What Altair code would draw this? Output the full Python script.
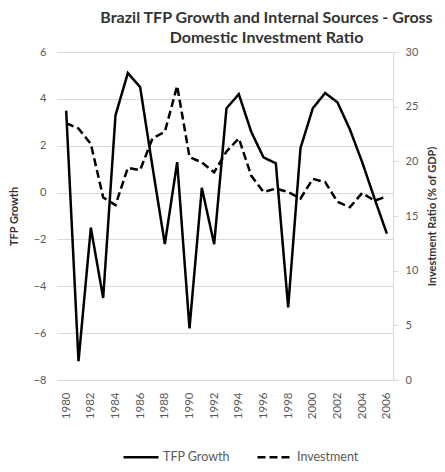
import altair as alt
import pandas as pd

years = list(range(1980, 2007))
tfp_growth = [3.5, -7.2, -1.5, -4.5, 3.3, 5.1, 4.5, 1.1, -2.2, 1.3,
              -5.8, 0.2, -2.2, 3.6, 4.2, 2.6, 1.5, 1.25, -4.9, 1.9,
              3.6, 4.25, 3.85, 2.7, 1.3, -0.25, -1.75]
investment = [23.5, 23.0, 21.6, 16.7, 16.0, 19.4, 19.2, 22.1, 22.7, 26.9,
              20.4, 19.9, 19.0, 20.9, 22.1, 18.7, 17.2, 17.5, 17.2, 16.6,
              18.4, 18.1, 16.3, 15.8, 17.1, 16.4, 16.8]
series_names = ["TFP Growth", "Investment"]
x_ticks = list(range(1980, 2007, 2))

df_tfp = pd.DataFrame({"year": years, "value": tfp_growth, "series": series_names[0]})
df_inv = pd.DataFrame({"year": years, "value": investment, "series": series_names[1]})

FONT = "Lato"
GREY = "#595959"
LIGHT = "#d9d9d9"

x_enc = alt.X("year:Q", scale=alt.Scale(domain=[1979.5, 2006.5], nice=False, zero=False),
              axis=alt.Axis(values=x_ticks, format="d", labelAngle=270, labelColor=GREY,
                            labelFontSize=11.5, labelFont=FONT, ticks=False, grid=False,
                            domainColor=LIGHT, labelPadding=12, title=None))

dash_scale = alt.Scale(domain=series_names, range=[[1, 0], [8, 4]])
legend = alt.Legend(orient="none", legendX=62, legendY=386, direction="horizontal",
                    title=None, symbolType="stroke", symbolSize=1225,
                    symbolStrokeWidth=2.5, symbolStrokeColor="black",
                    labelColor=GREY, labelFontSize=12.5, labelFont=FONT,
                    columnPadding=22, labelOffset=3)

tfp = alt.Chart(df_tfp).mark_line(color="black", strokeWidth=2.5).encode(
    x=x_enc,
    y=alt.Y("value:Q", scale=alt.Scale(domain=[-8, 6], nice=False),
            axis=alt.Axis(values=list(range(-8, 7, 2)), title="TFP Growth", titleFont=FONT,
                          titleFontSize=11, titleFontWeight="bold", titleColor="#333333",
                          labelColor=GREY, labelFontSize=11, labelFont=FONT,
                          gridColor=LIGHT, gridWidth=1.2, domain=False, tickColor=LIGHT,
                          tickSize=3, labelPadding=11, titlePadding=14)),
    strokeDash=alt.StrokeDash("series:N", scale=dash_scale, legend=legend),
)

inv = alt.Chart(df_inv).mark_line(color="black", strokeWidth=2.5).encode(
    x=x_enc,
    y=alt.Y("value:Q", scale=alt.Scale(domain=[0, 30], nice=False),
            axis=alt.Axis(orient="right", values=list(range(0, 31, 5)),
                          title="Investment Ratio (% of GDP)", titleFont=FONT,
                          titleFontSize=11, titleFontWeight="bold", titleColor="#333333",
                          titleAngle=270, labelColor=GREY, labelFontSize=11, labelFont=FONT,
                          grid=False, domainColor=LIGHT, tickColor=LIGHT, tickSize=5,
                          labelPadding=7, titlePadding=20)),
    strokeDash=alt.StrokeDash("series:N", scale=dash_scale, legend=legend),
)

chart = alt.layer(tfp, inv).resolve_scale(y="independent").properties(
    width=333, height=328,
    autosize=alt.AutoSizeParams(type="none"),
    padding={"left": 52, "top": 44, "right": 44, "bottom": 84},
    title=alt.TitleParams(
        text=["Brazil TFP Growth and Internal Sources - Gross", "Domestic Investment Ratio"],
        font=FONT, fontSize=16, fontWeight="bold", color="#333333",
        anchor="middle", dx=40, offset=0, lineHeight=20),
).configure_view(stroke=None)

chart.save("out.html", embed_options={"renderer": "svg", "actions": False})
